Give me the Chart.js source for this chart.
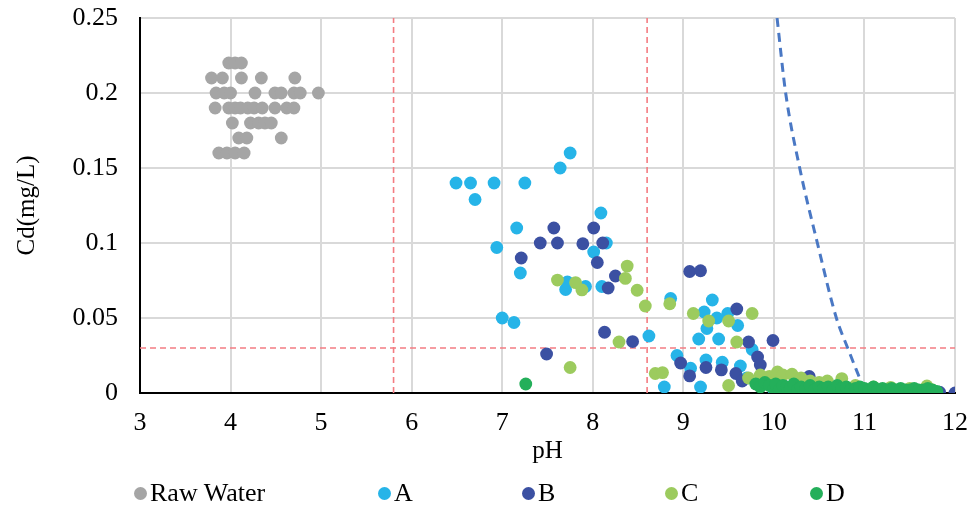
<!DOCTYPE html>
<html>
<head>
<meta charset="utf-8">
<script src="https://cdn.jsdelivr.net/npm/chart.js@4/dist/chart.umd.min.js"></script>
<style>
  html, body { margin: 0; background: #fff; }
  #wrap { position: relative; width: 972px; height: 510px; }
  #legend { position: absolute; left: 0; top: 477px; width: 972px; height: 32px;
            font-family: "Liberation Serif", serif; font-size: 26px; color: #000; }
  #legend .item { position: absolute; top: 0; white-space: nowrap; line-height: 32px; }
  #legend .dot { display: inline-block; width: 13px; height: 13px; border-radius: 50%;
                 margin-right: 3px; vertical-align: 1px; }
</style>
</head>
<body>
<div id="wrap">
  <canvas id="myChart" width="972" height="510"></canvas>
  <div id="legend"></div>
</div>
<script>
// Data: [pH, Cd mg/L]
var rawWater = [
  [3.98,0.22],[4.05,0.22],[4.12,0.22],
  [3.79,0.21],[3.91,0.21],[4.12,0.21],[4.34,0.21],[4.71,0.21],
  [3.84,0.20],[3.93,0.20],[4.00,0.20],[4.27,0.20],[4.49,0.20],[4.56,0.20],[4.70,0.20],[4.77,0.20],[4.97,0.20],
  [3.83,0.19],[3.98,0.19],[4.05,0.19],[4.11,0.19],[4.19,0.19],[4.26,0.19],[4.35,0.19],[4.49,0.19],[4.62,0.19],[4.70,0.19],
  [4.02,0.18],[4.22,0.18],[4.31,0.18],[4.38,0.18],[4.45,0.18],
  [4.09,0.17],[4.18,0.17],[4.56,0.17],
  [3.87,0.16],[3.96,0.16],[4.05,0.16],[4.15,0.16]
];
var seriesA = [
  [6.49,0.14],[6.65,0.14],[6.91,0.14],[7.25,0.14],[6.70,0.129],[7.75,0.16],[7.64,0.15],
  [8.09,0.12],[7.16,0.11],[6.94,0.097],[7.20,0.080],[8.15,0.100],[8.01,0.094],
  [7.70,0.069],[7.72,0.074],[7.92,0.071],[8.10,0.071],[7.00,0.050],[7.13,0.047],
  [8.62,0.038],[8.86,0.063],[9.32,0.062],[9.23,0.054],[9.37,0.050],[9.26,0.043],
  [9.49,0.053],[9.60,0.045],[9.17,0.036],[9.39,0.036],[9.76,0.029],[8.93,0.025],
  [9.08,0.0165],[9.25,0.022],[9.43,0.0205],[9.63,0.018],[8.79,0.004],[9.19,0.004],
  [9.70,0.010],[9.85,0.005],[10.00,0.002],[10.20,0.003],[10.60,0.002],[11.00,0.001]
];
var seriesB = [
  [7.57,0.110],[8.01,0.110],[7.42,0.100],[7.61,0.100],[7.89,0.0995],[8.11,0.100],
  [7.21,0.090],[8.05,0.087],[8.25,0.078],[8.17,0.070],[7.49,0.026],[8.13,0.0405],
  [8.44,0.0343],[9.07,0.081],[9.19,0.0815],[9.59,0.056],[9.72,0.034],[9.99,0.035],
  [8.97,0.020],[9.07,0.0114],[9.25,0.017],[9.42,0.0154],[9.58,0.013],[9.82,0.024],
  [9.85,0.0187],[9.65,0.008],[9.90,0.010],[10.00,0.003],[10.10,0.005],[10.39,0.011],
  [10.42,0.001],[10.70,0.003],[11.00,0.002],[11.50,0.002],[11.83,0.0005],[12.00,0]
];
var seriesC = [
  [7.61,0.0753],[7.81,0.0736],[7.88,0.0687],[8.38,0.0846],[8.36,0.0764],[8.49,0.0685],
  [8.58,0.058],[8.29,0.034],[7.75,0.017],[8.69,0.013],[8.77,0.0136],[8.85,0.0595],
  [9.11,0.053],[9.28,0.048],[9.50,0.048],[9.76,0.053],[9.59,0.034],[9.50,0.005],
  [9.72,0.010],[9.85,0.012],[9.95,0.011],[10.04,0.014],[10.10,0.012],[10.20,0.0125],
  [10.30,0.010],[10.40,0.008],[10.50,0.007],[10.59,0.008],[10.75,0.0096],[10.90,0.005],
  [11.10,0.004],[11.29,0.0038],[11.50,0.003],[11.69,0.0047],[11.75,0.002]
];
var seriesD = [
  [7.26,0.006],[9.80,0.006],[9.85,0.004],[9.90,0.007],[9.95,0.005],[10.00,0.003],
  [10.02,0.006],[10.06,0.002],[10.10,0.005],[10.14,0.004],[10.18,0.003],[10.22,0.006],
  [10.26,0.002],[10.30,0.004],[10.35,0.003],[10.40,0.005],[10.45,0.002],[10.50,0.004],
  [10.55,0.003],[10.60,0.004],[10.65,0.002],[10.70,0.005],[10.75,0.003],[10.80,0.004],
  [10.85,0.002],[10.90,0.003],[10.95,0.004],[11.00,0.003],[11.05,0.002],[11.10,0.004],
  [11.15,0.002],[11.20,0.003],[11.25,0.002],[11.30,0.003],[11.35,0.002],[11.40,0.003],
  [11.45,0.002],[11.50,0.002],[11.55,0.003],[11.60,0.002],[11.65,0.002],[11.70,0.003],
  [11.75,0.002],[11.80,0.001]
];
// dashed solubility curve
var curve = [[10.035,0.25],[10.13,0.20],[10.285,0.15],[10.48,0.10],[10.69,0.05],[10.815,0.03],[10.955,0.0087]];
// red guide lines
var guidePH = [5.8, 8.6];
var guideCd = 0.03;

var xRange = [3, 12];
var yRange = [0, 0.25];

function pts(arr) {
  return arr.map(function (p) { return {x: p[0], y: p[1]}; });
}

var serif = 'Liberation Serif';

function dots(label, data, color, order) {
  return {
    label: label, data: pts(data), order: order,
    backgroundColor: color, borderColor: color,
    pointRadius: 6.4, pointHoverRadius: 6.4, pointBorderWidth: 0, showLine: false
  };
}

function guide(data) {
  return {
    label: '', data: data, order: 7, showLine: true, pointRadius: 0,
    borderColor: '#F47C82', borderWidth: 1.6, borderDash: [6, 4]
  };
}

var datasets = [
  dots('Raw Water', rawWater, '#A5A5A5', 5),
  dots('A', seriesA, '#26B4E8', 4),
  dots('B', seriesB, '#3B50A2', 3),
  dots('C', seriesC, '#9CCB5E', 2),
  dots('D', seriesD, '#24AF5A', 1),
  {
    label: '', data: pts(curve), order: 6, showLine: true, pointRadius: 0,
    borderColor: '#4A78C4', borderWidth: 3, borderDash: [9, 6],
    cubicInterpolationMode: 'monotone'
  }
];
guidePH.forEach(function (v) {
  datasets.push(guide([{x: v, y: yRange[0]}, {x: v, y: yRange[1]}]));
});
datasets.push(guide([{x: xRange[0], y: guideCd}, {x: xRange[1], y: guideCd}]));

var ctx = document.getElementById('myChart').getContext('2d');
var myChart = new Chart(ctx, {
  type: 'scatter',
  data: { datasets: datasets },
  options: {
    responsive: false,
    animation: false,
    layout: { padding: { left: 0, right: 17, top: 18, bottom: 37 } },
    plugins: { legend: { display: false }, tooltip: { enabled: false } },
    scales: {
      x: {
        type: 'linear', min: xRange[0], max: xRange[1],
        ticks: { stepSize: 1, padding: 15, color: '#000', font: { family: serif, size: 26 } },
        grid: { color: '#D9D9D9', lineWidth: 2, drawTicks: false },
        border: { color: '#000', width: 2 },
        title: { display: true, text: 'pH', color: '#000', font: { family: serif, size: 25 },
                 padding: { top: 0, bottom: 7 } },
        afterFit: function (s) {
          s.height = 80;
          s.paddingLeft = 0; s.paddingRight = 0;   // keep plot edges fixed
        }
      },
      y: {
        min: yRange[0], max: yRange[1],
        ticks: {
          stepSize: 0.05, padding: 22, color: '#000', font: { family: serif, size: 26 },
          callback: function (v) { return String(+v.toFixed(2)); }
        },
        grid: { color: '#D9D9D9', lineWidth: 2, drawTicks: false },
        border: { color: '#000', width: 2 },
        title: { display: true, text: 'Cd(mg/L)', color: '#000', font: { family: serif, size: 25 },
                 padding: { top: 12, bottom: 0 } },
        afterFit: function (s) {
          s.width = 140;
          s.paddingTop = 0; s.paddingBottom = 0;
        }
      }
    }
  }
});

// legend below the plot, built from the dataset labels/colours
var legendLeft = [134, 378, 522, 665, 810];
var legendBox = document.getElementById('legend');
myChart.data.datasets.slice(0, 5).forEach(function (ds, i) {
  var item = document.createElement('div');
  item.className = 'item';
  item.style.left = legendLeft[i] + 'px';
  var dot = document.createElement('span');
  dot.className = 'dot';
  dot.style.background = ds.backgroundColor;
  item.appendChild(dot);
  item.appendChild(document.createTextNode(ds.label));
  legendBox.appendChild(item);
});
</script>
</body>
</html>
